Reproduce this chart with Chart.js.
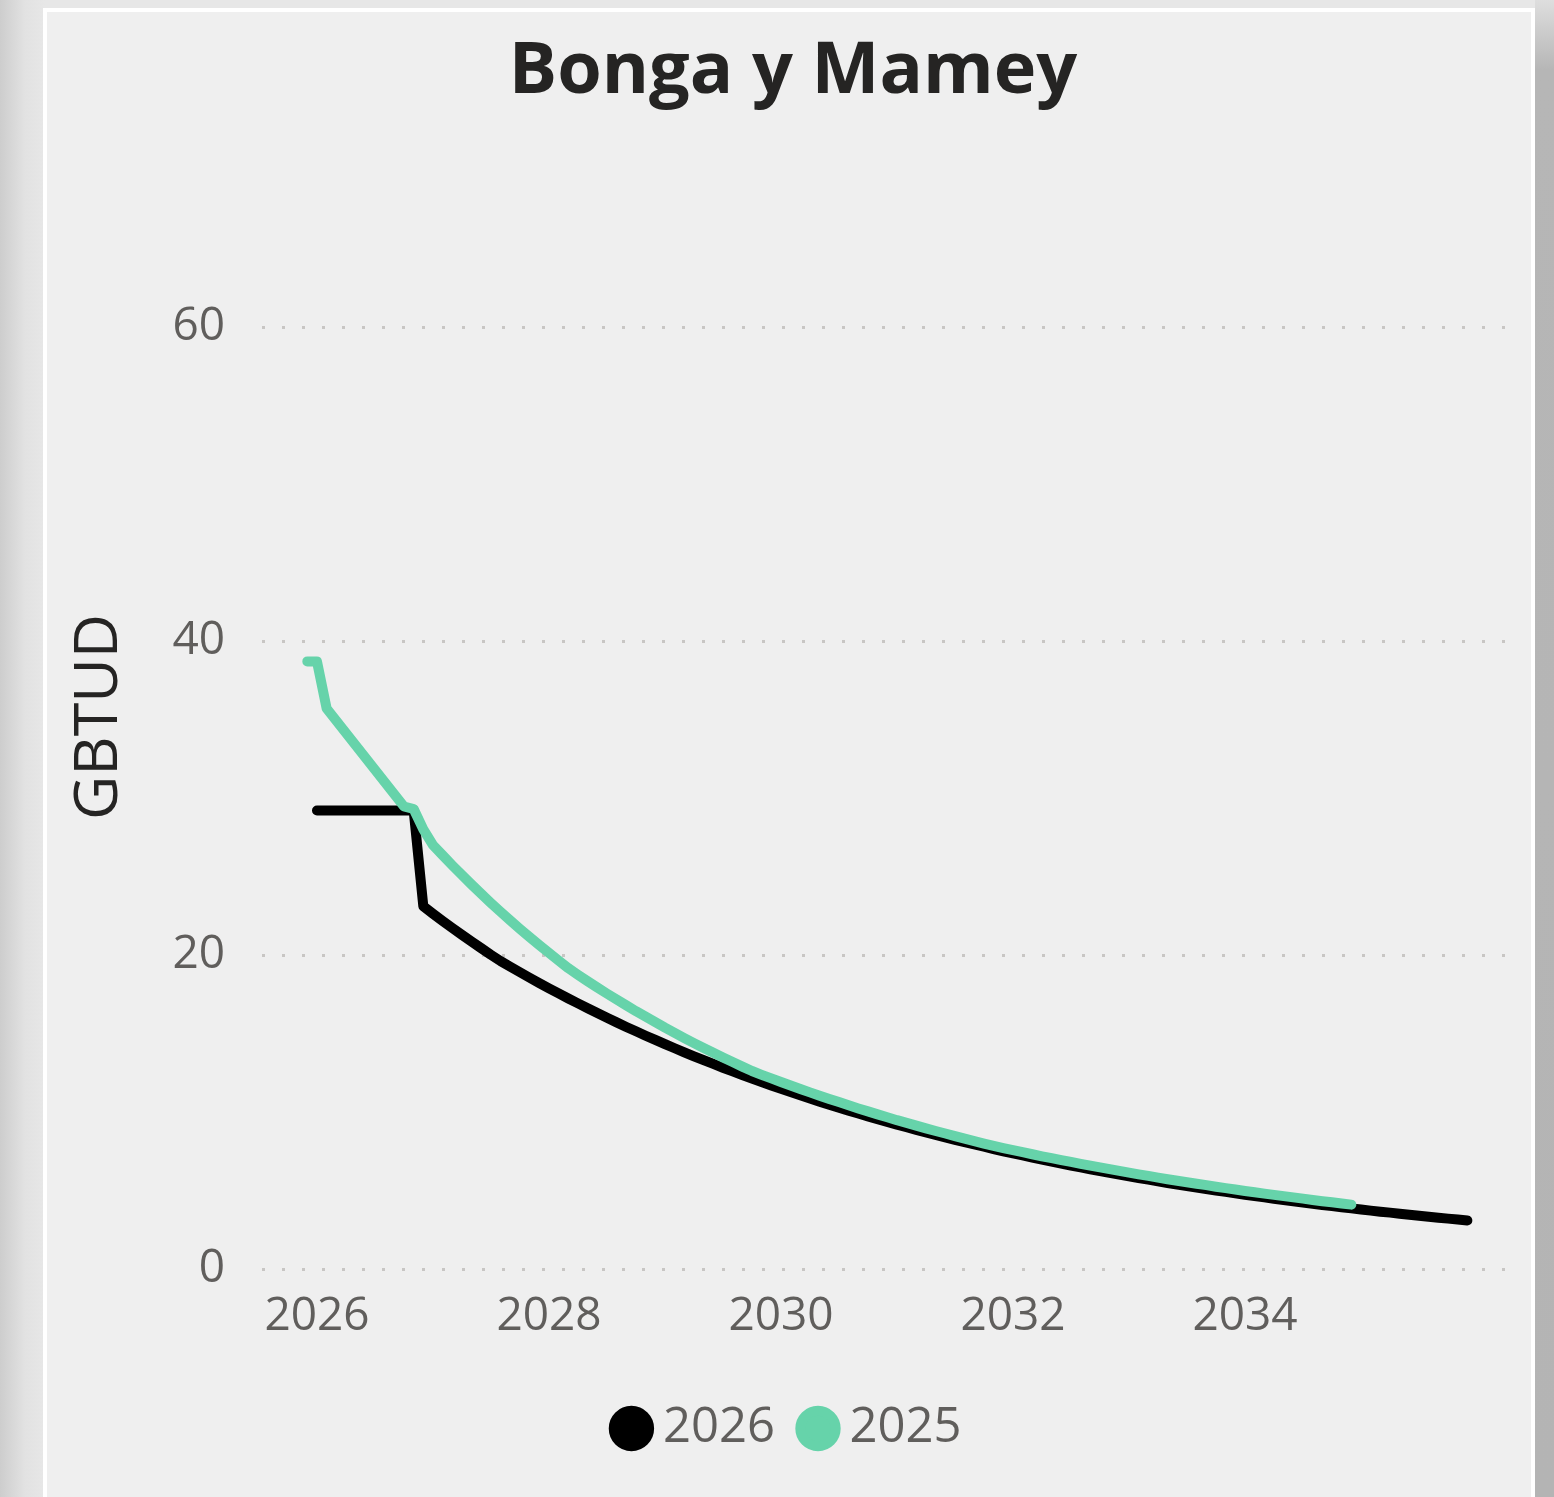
<!DOCTYPE html>
<html>
<head>
<meta charset="utf-8">
<script src="https://cdn.jsdelivr.net/npm/chart.js@4.4.0/dist/chart.umd.min.js"></script>
<style>
  html, body { margin: 0; padding: 0; }
  body {
    width: 1554px; height: 1497px; overflow: hidden; position: relative;
    background: linear-gradient(to right, #cdcdcd 0px, #e2e2e2 25px, #e7e7e7 45px);
  }
  .sombra-der {
    position: absolute; left: 1535px; top: 0; width: 19px; height: 1497px;
    background: linear-gradient(to bottom, #dedede 0px, #b6b6b6 70px, #b4b4b4 100%);
  }
  .tarjeta {
    position: absolute; left: 43px; top: 8px; width: 1492px; height: 1500px;
    box-sizing: border-box; border: 4px solid #ffffff; background: #efefef;
  }
  canvas { position: absolute; left: 0; top: 0; }
</style>
</head>
<body>
<div class="sombra-der"></div>
<div class="tarjeta">
  <canvas id="grafica" width="1484" height="1485"></canvas>
</div>
<script>
// ---- datos (GBTUD por mes) ----
const serie2026 = '2026';
const serie2025 = '2025';
const tituloEjeY = 'GBTUD';

// perfil 2026: ene-2026 .. dic-2035
const valores2026 = [
  29.2, 29.2, 29.2, 29.2, 29.2, 29.2, 29.2, 29.2, 29.2, 29.2, 29.2, 23.10,        // 2026
  22.63, 22.17, 21.72, 21.28, 20.85, 20.43, 20.01, 19.61, 19.25, 18.90, 18.55, 18.21, // 2027
  17.88, 17.55, 17.23, 16.92, 16.61, 16.30, 16.00, 15.71, 15.42, 15.14, 14.86, 14.59, // 2028
  14.32, 14.06, 13.80, 13.55, 13.30, 13.06, 12.82, 12.59, 12.36, 12.13, 11.91, 11.69, // 2029
  11.48, 11.27, 11.06, 10.86, 10.66, 10.46, 10.27, 10.08, 9.90, 9.72, 9.54, 9.37,     // 2030
  9.19, 9.03, 8.86, 8.70, 8.54, 8.38, 8.23, 8.08, 7.93, 7.79, 7.64, 7.50,             // 2031
  7.37, 7.23, 7.10, 6.97, 6.84, 6.72, 6.59, 6.47, 6.35, 6.24, 6.12, 6.01,             // 2032
  5.90, 5.79, 5.69, 5.58, 5.48, 5.38, 5.28, 5.19, 5.09, 5.00, 4.91, 4.82,             // 2033
  4.73, 4.64, 4.56, 4.47, 4.39, 4.31, 4.23, 4.16, 4.08, 4.01, 3.93, 3.86,             // 2034
  3.79, 3.72, 3.65, 3.59, 3.52, 3.46, 3.39, 3.33, 3.27, 3.21, 3.15, 3.09              // 2035
];

// perfil 2025: dic-2025 .. dic-2034
const valores2025 = [
  38.70,                                                                              // dic 2025
  38.70, 35.70, 34.92, 34.14, 33.36, 32.58, 31.80, 31.02, 30.24, 29.46, 29.30, 28.00, // 2026
  27.00, 26.35, 25.71, 25.09, 24.48, 23.89, 23.31, 22.75, 22.20, 21.66, 21.14, 20.63, // 2027
  20.13, 19.64, 19.16, 18.74, 18.33, 17.93, 17.54, 17.16, 16.79, 16.42, 16.07, 15.72, // 2028
  15.37, 15.04, 14.71, 14.39, 14.08, 13.77, 13.47, 13.18, 12.89, 12.61, 12.37, 12.14, // 2029
  11.91, 11.69, 11.47, 11.25, 11.04, 10.83, 10.63, 10.43, 10.23, 10.04, 9.85, 9.67,   // 2030
  9.48, 9.31, 9.13, 8.96, 8.79, 8.63, 8.46, 8.30, 8.15, 7.99, 7.84, 7.70,             // 2031
  7.57, 7.44, 7.31, 7.18, 7.06, 6.94, 6.82, 6.70, 6.58, 6.47, 6.36, 6.25,             // 2032
  6.14, 6.03, 5.93, 5.82, 5.72, 5.62, 5.53, 5.43, 5.34, 5.24, 5.15, 5.06,             // 2033
  4.97, 4.89, 4.80, 4.72, 4.64, 4.56, 4.48, 4.40, 4.32, 4.25, 4.17, 4.10              // 2034
];

// meses (categorías) de cada serie, 'AAAA-MM'
function mesesDesde(anio, mes, n) {
  const out = [];
  for (let i = 0; i < n; i++) {
    const a = anio + Math.floor((mes - 1 + i) / 12);
    const m = ((mes - 1 + i) % 12) + 1;
    out.push(a + '-' + String(m).padStart(2, '0'));
  }
  return out;
}
const meses2026 = mesesDesde(2026, 1, valores2026.length);
const meses2025 = mesesDesde(2025, 12, valores2025.length);

const ticksY = [0, 20, 40, 60];
const ticksX = [2026, 2028, 2030, 2032, 2034];

// 'AAAA-MM' -> año decimal para el eje lineal
function aAnio(etiqueta) {
  const p = etiqueta.split('-');
  return Number(p[0]) + (Number(p[1]) - 1) / 12;
}
function puntos(meses, valores) {
  return meses.map((m, i) => ({ x: aAnio(m), y: valores[i] }));
}

const fuente = "'Segoe UI', 'Open Sans', sans-serif";
const gris = '#605e5c';

// el título del eje Y va algo por encima del centro, como en Power BI
const tituloY = {
  id: 'tituloY',
  afterDraw(chart) {
    const ctx = chart.ctx;
    ctx.save();
    ctx.translate(53, 705);
    ctx.rotate(-Math.PI / 2);
    ctx.font = '61px ' + fuente;
    ctx.fillStyle = '#252423';
    ctx.textAlign = 'center';
    ctx.textBaseline = 'middle';
    ctx.fillText(tituloEjeY, 0, 0);
    ctx.restore();
  }
};

new Chart(document.getElementById('grafica'), {
  type: 'line',
  data: {
    datasets: [
      {
        label: serie2026,
        data: puntos(meses2026, valores2026),
        borderColor: '#000000',
        backgroundColor: '#000000',
        borderWidth: 10,
        pointRadius: 0,
        borderCapStyle: 'round',
        borderJoinStyle: 'round',
        tension: 0,
        order: 1
      },
      {
        label: serie2025,
        data: puntos(meses2025, valores2025),
        borderColor: '#66d3aa',
        backgroundColor: '#66d3aa',
        borderWidth: 10,
        pointRadius: 0,
        borderCapStyle: 'round',
        borderJoinStyle: 'round',
        tension: 0,
        order: 0
      }
    ]
  },
  plugins: [tituloY],
  options: {
    responsive: false,
    animation: false,
    layout: { padding: { left: 8, right: 0, top: 0, bottom: 34 } },
    plugins: {
      tooltip: { enabled: false },
      title: {
        display: true,
        text: 'Bonga y Mamey',
        color: '#252423',
        font: { family: fuente, size: 72, weight: 'bold' },
        padding: { top: 17, bottom: 211.6 }
      },
      legend: {
        position: 'bottom',
        labels: {
          usePointStyle: true,
          pointStyle: 'circle',
          boxWidth: 14,
          boxHeight: 25,
          padding: 36,
          color: gris,
          font: { family: fuente, size: 49 },
          sort: (a, b) => a.datasetIndex - b.datasetIndex
        }
      }
    },
    scales: {
      x: {
        type: 'linear',
        min: 2025.526,
        max: 2036.241,
        afterFit: s => { s.height = 99; },
        afterBuildTicks: s => { s.ticks = ticksX.map(v => ({ value: v })); },
        grid: { display: false },
        border: { display: false },
        ticks: {
          color: gris,
          padding: 12,
          font: { family: fuente, size: 46 },
          callback: v => String(v)
        }
      },
      y: {
        min: 0,
        max: 60,
        afterFit: s => { s.width = 207; },
        afterBuildTicks: s => { s.ticks = ticksY.map(v => ({ value: v })); },
        grid: { color: '#c8c6c4', lineWidth: 3, drawTicks: false },
        border: { display: false, dash: [3, 17] },
        ticks: {
          color: gris,
          padding: 37,
          font: { family: fuente, size: 46 }
        }
      },
      derecha: {
        position: 'right',
        afterFit: s => { s.width = 26; },
        grid: { display: false },
        border: { display: false },
        ticks: { display: false }
      }
    }
  }
});
</script>
</body>
</html>
